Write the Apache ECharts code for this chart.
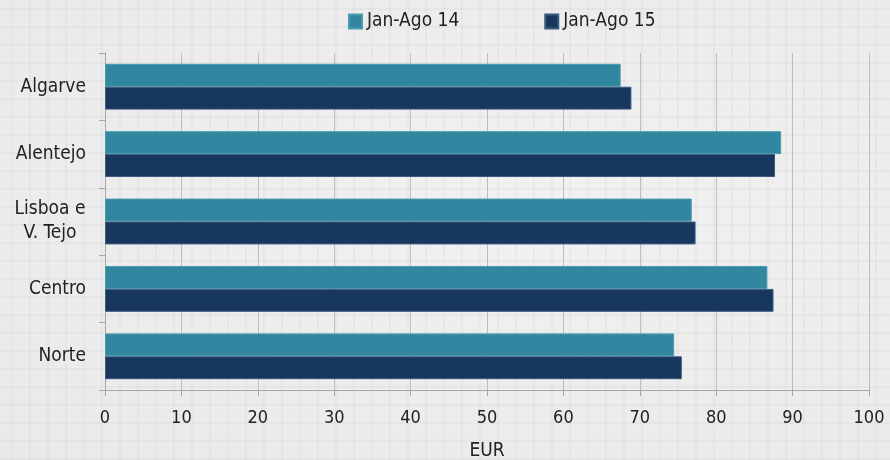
<!DOCTYPE html>
<html><head><meta charset="utf-8">
<script src="https://cdn.jsdelivr.net/npm/echarts@6/dist/echarts.min.js"></script>
<style>
html,body{margin:0;padding:0;}
#c{width:890px;height:460px;
background-color:#ececec;
background-image:
 linear-gradient(to right, rgba(0,0,0,0.028) 2px, transparent 2px),
 linear-gradient(to bottom, rgba(0,0,0,0.028) 2px, transparent 2px),
 radial-gradient(ellipse at 60% 45%, #f1f1f1 0%, #e9e9e9 100%);
background-size:18px 18px,18px 18px,100% 100%;
background-position:11px 8px,11px 8px,0 0;}
</style></head>
<body><div id="c"></div>
<script>
const categories = ['Norte', 'Centro', 'Lisboa e\nV. Tejo', 'Alentejo', 'Algarve'];
const seriesNames = ['Jan-Ago 14', 'Jan-Ago 15'];
const values14 = [74.5, 86.7, 76.8, 88.5, 67.5];
const values15 = [75.5, 87.5, 77.3, 87.7, 68.9];
const axisName = 'EUR';

const font = "'Liberation Sans Narrow','DejaVu Sans Condensed',sans-serif";
const chart = echarts.init(document.getElementById('c'), null, {renderer:'canvas'});
chart.setOption({
  backgroundColor: 'transparent',
  textStyle: {fontFamily: font},
  legend: {
    top: 7, left: 343, itemWidth: 13, itemHeight: 14, itemGap: 85,
    icon: 'rect',
    textStyle: {fontSize: 19, color: '#222', fontFamily: font},
    data: seriesNames
  },
  grid: {left: 105, right: 21, top: 53, bottom: 70, containLabel: false, outerBoundsMode: 'none'},
  xAxis: {
    type: 'value', min: 0, max: 100, interval: 10,
    name: axisName, nameLocation: 'middle', nameGap: 52,
    nameTextStyle: {fontSize: 19, color: '#222', fontFamily: font},
    axisLine: {show: true, lineStyle: {color: '#a6a6a6', width: 1}},
    axisTick: {show: true, length: 6, lineStyle: {color: '#a6a6a6'}},
    axisLabel: {fontSize: 18, color: '#222', margin: 19, fontFamily: font},
    splitLine: {show: true, lineStyle: {color: '#bdbdbd', width: 1}}
  },
  yAxis: {
    type: 'category', data: categories,
    axisLine: {show: true, lineStyle: {color: '#a6a6a6', width: 1}},
    axisTick: {show: true, length: 6, lineStyle: {color: '#a6a6a6'}},
    axisLabel: {
      fontSize: 19, color: '#222', margin: 19, fontFamily: font,
      formatter: function (v) {
        if (v.indexOf('\n') < 0) return v;
        return v.split('\n').map(function (s) { return '{c|' + s + '}'; }).join('\n');
      },
      rich: {c: {fontSize: 19, color: '#222', fontFamily: font, width: 72, align: 'center', lineHeight: 24}}
    },
    splitLine: {show: false}
  },
  series: [
    {name: seriesNames[0], type: 'bar', data: values14, barGap: '0%', barCategoryGap: '32%',
     itemStyle: {color: '#31879f', borderColor: '#4a9ab2', borderWidth: 1}},
    {name: seriesNames[1], type: 'bar', data: values15, barGap: '0%', barCategoryGap: '32%',
     itemStyle: {color: '#17375e', borderColor: '#3b5a80', borderWidth: 1}}
  ]
});
</script></body></html>
